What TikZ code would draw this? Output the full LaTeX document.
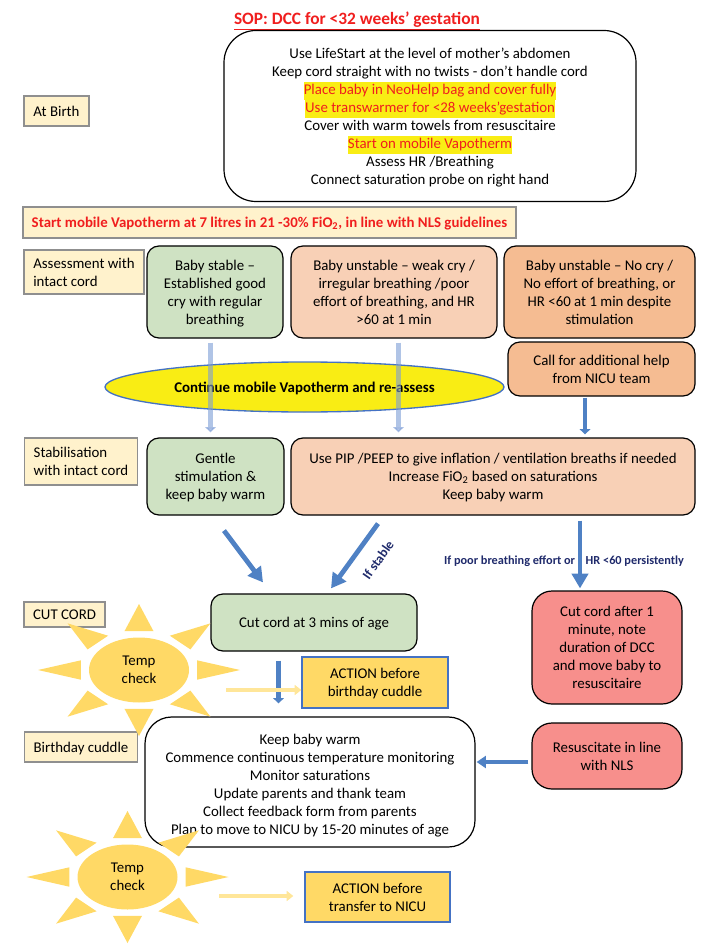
\documentclass[tikz,border=0pt]{standalone}
\usepackage{fontspec}
\setmainfont{Carlito}
\usetikzlibrary{arrows.meta}
\usetikzlibrary{shapes.geometric}
\definecolor{creamfill}{HTML}{FFF2CC}
\definecolor{creamline}{HTML}{8F8F8F}
\definecolor{greenfill}{HTML}{CFE2C3}
\definecolor{peachfill}{HTML}{F8D0B6}
\definecolor{orangefill}{HTML}{F5BC92}
\definecolor{redfill}{HTML}{F78F8C}
\definecolor{yellowfill}{HTML}{F9ED14}
\definecolor{sunfill}{HTML}{FFD966}
\definecolor{sunarrow}{HTML}{FFE699}
\definecolor{bluearrow}{HTML}{4F81C4}
\definecolor{actionline}{HTML}{4472C4}
\definecolor{navytext}{HTML}{1F2A6B}
\definecolor{alertred}{HTML}{F01E1E}
\newcommand{\hilite}[1]{{\fboxsep=0pt\colorbox{yellowfill}{\strut\textcolor{alertred}{#1}}}}
\def\px{0.75pt}
\tikzset{
	basetext/.style={align=center, font=\fontsize{11.15}{13.5}\selectfont, inner sep=0pt, text depth=0pt},
	labelbox/.style={basetext, rectangle, draw=creamline, line width=1pt, fill=creamfill},
	stepbox/.style={basetext, rectangle, draw=black, line width=0.9pt, rounded corners=9pt},
	actionbox/.style={basetext, rectangle, draw=actionline, line width=1pt, fill=sunfill},
	bigarrow/.style={draw=bluearrow, line width=3.6pt, -{Triangle[length=11pt, width=12pt]}},
	thinarrow/.style={draw=bluearrow, line width=3.6pt, -{Triangle[length=4pt, width=8pt]}},
	palearrow/.style={draw=actionline!70!white, opacity=0.6, line width=4pt, -{Triangle[length=4pt, width=8pt]}},
	sunarrowline/.style={draw=sunarrow, line width=2.6pt, -{Triangle[length=5pt, width=7.5pt]}},
	sunbody/.style={basetext, ellipse, fill=sunfill, minimum width=100*\px, minimum height=65*\px}
}

\begin{document}
\begin{tikzpicture}[x=0.75pt, y=-0.75pt]
\useasboundingbox (0,0) rectangle (700,948);

\node[basetext, font=\fontsize{13}{15}\bfseries\selectfont, text=alertred] (title) at (357,18) {\underline{SOP: DCC for <32 weeks’ gestation}};

\node[stepbox, rounded corners=24pt, minimum width=412*\px, minimum height=171*\px] (birthsteps) at (430,116) {
	Use LifeStart at the level of mother’s abdomen\\
	Keep cord straight with no twists - don’t handle cord\\
	\hilite{Place baby in NeoHelp bag and cover fully}\\
	\hilite{Use transwarmer for <28 weeks’gestation}\\
	Cover with warm towels from resuscitaire\\
	\hilite{Start on mobile Vapotherm}\\
	Assess HR /Breathing\\
	Connect saturation probe on right hand};

\node[labelbox, minimum width=65*\px, minimum height=30*\px] (birthlabel) at (56.5,111) {At Birth};
\node[labelbox, minimum width=493*\px, minimum height=31*\px, text=alertred, font=\fontsize{11.15}{13.5}\bfseries\selectfont] (startbox) at (269.5,222.5) {Start mobile Vapotherm at 7 litres in 21 -30\% FiO\textsubscript{2}, in line with NLS guidelines};

\node[labelbox, align=left, minimum width=120*\px, minimum height=44*\px] (assesslabel) at (84,272) {Assessment with\\intact cord};
\node[stepbox, fill=greenfill, minimum width=136*\px, minimum height=92*\px] (stable) at (215,292) {Baby stable --\\Established good\\cry with regular\\breathing};
\node[stepbox, fill=peachfill, minimum width=206*\px, minimum height=92*\px] (unstablea) at (394,292) {Baby unstable -- weak cry /\\irregular breathing /poor\\effort of breathing, and HR\\>60 at 1 min};
\node[stepbox, fill=orangefill, minimum width=191*\px, minimum height=92*\px] (unstableb) at (599.5,292) {Baby unstable -- No cry /\\No effort of breathing, or\\HR <60 at 1 min despite\\stimulation};
\node[stepbox, fill=orangefill, minimum width=187*\px, minimum height=54*\px] (callhelp) at (601.5,369) {Call for additional help\\from NICU team};

\node[basetext, ellipse, draw=actionline, line width=1pt, fill=yellowfill, font=\fontsize{11.15}{13.5}\bfseries\selectfont, minimum width=399*\px, minimum height=50*\px] (reassess) at (304.5,387) {Continue mobile Vapotherm and re-assess};

\node[labelbox, align=left, minimum width=113*\px, minimum height=47*\px] (stablabel) at (81,461.5) {Stabilisation\\with intact cord};
\node[stepbox, fill=greenfill, minimum width=137*\px, minimum height=77*\px] (gentle) at (215.5,476.5) {Gentle\\stimulation \&\\keep baby warm};
\node[stepbox, fill=peachfill, minimum width=404*\px, minimum height=77*\px] (inflate) at (493,476.5) {Use PIP /PEEP to give inflation / ventilation breaths if needed\\Increase FiO\textsubscript{2} based on saturations\\Keep baby warm};

\draw[palearrow] ([xshift=-4.5*\px, yshift=-4*\px]stable.south) -- ([xshift=-5*\px, yshift=5*\px]gentle.north);
\draw[palearrow] ([xshift=4.5*\px, yshift=-4*\px]unstablea.south) -- ([xshift=-94.5*\px, yshift=5*\px]inflate.north);
\draw[thinarrow] ([xshift=-16.5*\px, yshift=-1*\px]callhelp.south) -- ([xshift=92*\px, yshift=3*\px]inflate.north);

\node[labelbox, minimum width=81*\px, minimum height=25*\px] (cutlabel) at (64.5,614.5) {CUT CORD};
\node[stepbox, fill=greenfill, minimum width=206*\px, minimum height=57*\px] (cutcord) at (314,622.5) {Cut cord at 3 mins of age};
\node[stepbox, fill=redfill, rounded corners=15pt, minimum width=150*\px, minimum height=113*\px] (cutlate) at (607,647.5) {Cut cord after 1\\minute, note\\duration of DCC\\and move baby to\\resuscitaire};

\draw[bigarrow] ([xshift=8.5*\px, yshift=-15*\px]gentle.south) -- ([xshift=-51*\px, yshift=11*\px]cutcord.north);
\draw[bigarrow] ([xshift=-115*\px, yshift=-8*\px]inflate.south) -- ([xshift=17*\px, yshift=5*\px]cutcord.north);
\draw[bigarrow] ([xshift=87*\px, yshift=-5*\px]inflate.south) -- ([xshift=-27*\px, yshift=2*\px]cutlate.north);

\node[basetext, rotate=55, font=\fontsize{10}{12}\bfseries\selectfont, text=navytext] (ifstable) at (378,560) {If stable};
\node[basetext, font=\fontsize{9.2}{12}\bfseries\selectfont, text=navytext] (ifpoor) at (564,560) {If poor breathing effort or\hspace{8pt}HR <60 persistently};

\node[labelbox, minimum width=113*\px, minimum height=30*\px] (cuddlelabel) at (81,747) {Birthday cuddle};
\node[stepbox, fill=white, rounded corners=20pt, minimum width=330*\px, minimum height=130*\px] (cuddle) at (310,782) {\rule{0pt}{11.5pt}Keep baby warm\\Commence continuous temperature monitoring\\Monitor saturations\\Update parents and thank team\\Collect feedback form from parents\\Plan to move to NICU by 15-20 minutes of age};
\node[stepbox, fill=redfill, rounded corners=15pt, minimum width=150*\px, minimum height=66*\px] (resus) at (607,756) {Resuscitate in line\\with NLS};
\draw[thinarrow, line width=3pt, -{Triangle[length=7pt, width=9pt]}] ([xshift=-3*\px, yshift=-6*\px]resus.west) -- ([xshift=1*\px, yshift=20*\px]cuddle.east);

\node[actionbox, minimum width=146*\px, minimum height=51*\px] (actiona) at (375,682.5) {ACTION before\\birthday cuddle};
\node[actionbox, minimum width=145*\px, minimum height=50*\px] (actionb) at (377.5,897) {ACTION before\\transfer to NICU};

% first sun
\begin{scope}[shift={(139,670)}]
	\foreach \ang in {0,45,...,315} {
		\fill[sunfill] (\ang:101 and 66) -- (\ang+14:60 and 40) -- (\ang-14:60 and 40) -- cycle;
	}
\end{scope}
\node[sunbody] (tempa) at (139,670) {Temp\\check};

% second sun
\begin{scope}[shift={(127.5,877)}]
	\foreach \ang in {0,45,...,315} {
		\fill[sunfill] (\ang:101 and 66) -- (\ang+14:60 and 40) -- (\ang-14:60 and 40) -- cycle;
	}
\end{scope}
\node[sunbody] (tempb) at (127.5,877) {Temp\\check};

\draw[thinarrow] ([xshift=-35.5*\px, yshift=-9*\px]cutcord.south) -- ([xshift=-31.5*\px, yshift=13*\px]cuddle.north);
\coordinate (suna) at (226,690);
\coordinate (sunb) at (219,896);
\draw[sunarrowline] (suna) -- (actiona.west |- suna);
\draw[sunarrowline] (sunb) -- ([xshift=-11*\px]actionb.west |- sunb);
\end{tikzpicture}
\end{document}
